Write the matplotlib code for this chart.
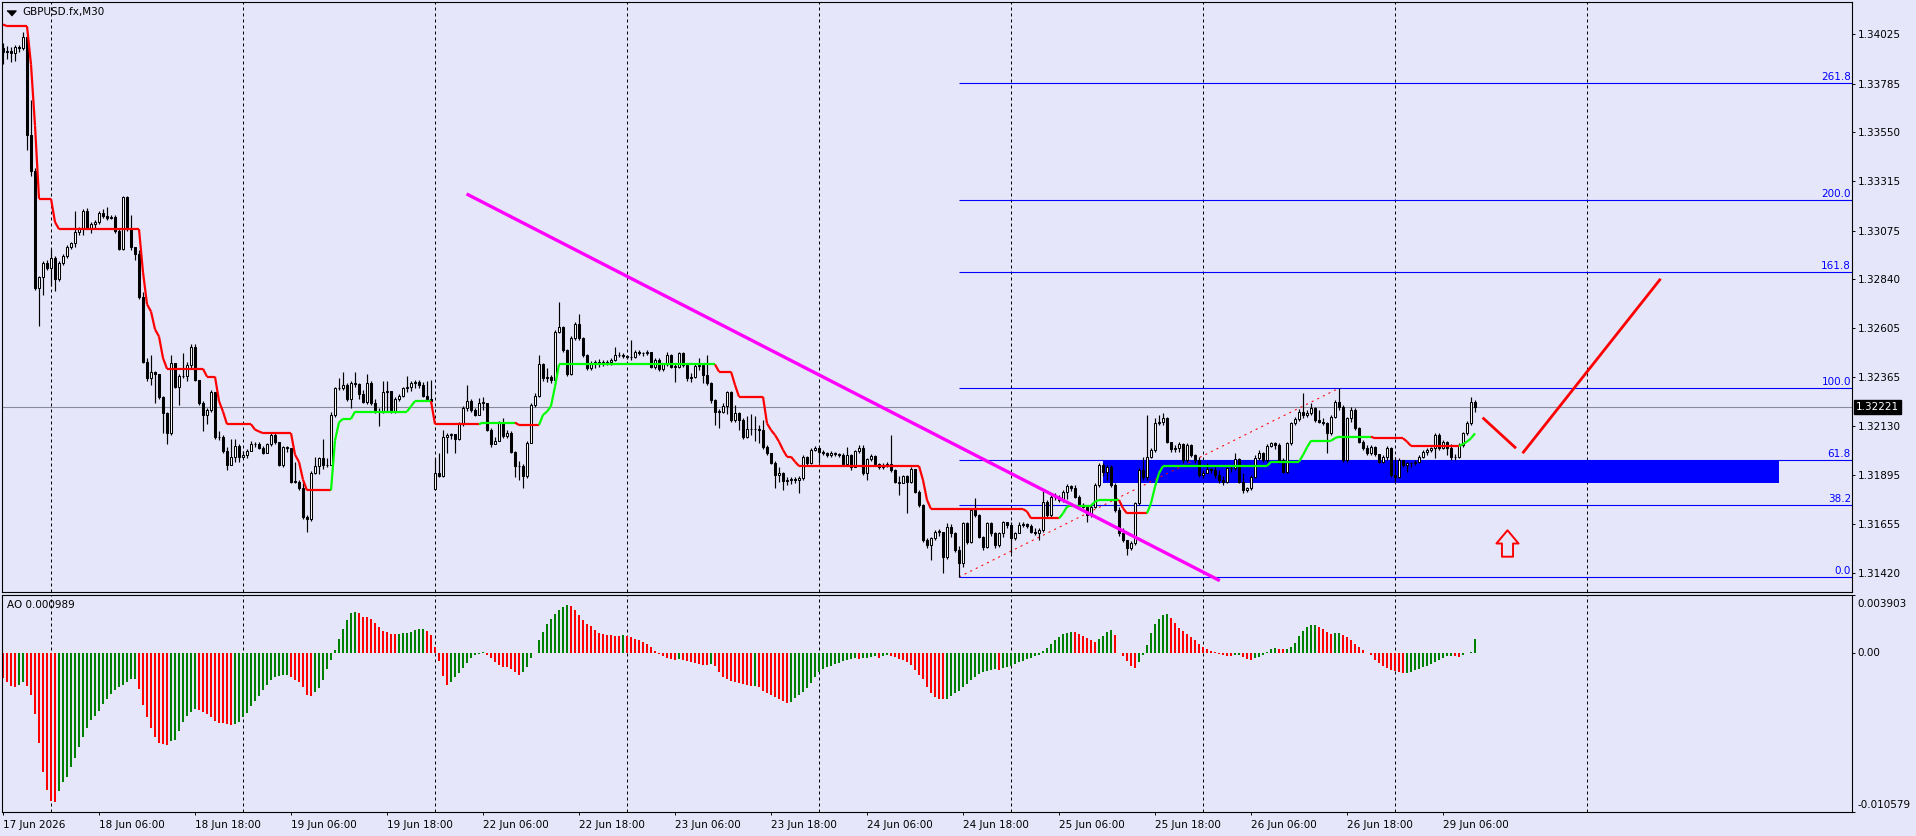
import numpy as np
import matplotlib
matplotlib.use("Agg")
import matplotlib.pyplot as plt
from matplotlib.collections import LineCollection
from matplotlib.patches import Rectangle
from matplotlib.path import Path
from matplotlib.lines import Line2D
import matplotlib.transforms as mtransforms

plt.rcParams['font.family'] = ['DejaVu Sans']

# ---------------- data ----------------
symbol = "GBPUSD.fx,M30"

closes = [
 1.33938, 1.33943, 1.33931, 1.33964, 1.33955, 1.34011, 1.33535, 1.33362, 1.32796, 1.32849, 1.32918, 1.32892,
 1.32944, 1.32840, 1.32918, 1.32953, 1.32996, 1.33013, 1.33068, 1.33082, 1.33168, 1.33085, 1.33108, 1.33116,
 1.33160, 1.33146, 1.33134, 1.33142, 1.33073, 1.32987, 1.33238, 1.33082, 1.32996, 1.32961, 1.32753, 1.32442,
 1.32364, 1.32390, 1.32381, 1.32269, 1.32191, 1.32096, 1.32433, 1.32321, 1.32373, 1.32373, 1.32424, 1.32511,
 1.32355, 1.32243, 1.32182, 1.32208, 1.32295, 1.32078, 1.32078, 1.32009, 1.31940, 1.31983, 1.32035, 1.31983,
 1.31988, 1.32009, 1.32044, 1.32044, 1.32023, 1.32001, 1.32044, 1.32087, 1.32052, 1.31940, 1.32027, 1.32023,
 1.31862, 1.31862, 1.31833, 1.31689, 1.31681, 1.31905, 1.31937, 1.31975, 1.31940, 1.31944, 1.32182, 1.32312,
 1.32312, 1.32329, 1.32260, 1.32338, 1.32334, 1.32286, 1.32248, 1.32338, 1.32243, 1.32200, 1.32200, 1.32295,
 1.32300, 1.32200, 1.32260, 1.32277, 1.32312, 1.32321, 1.32338, 1.32341, 1.32329, 1.32277, 1.32260, 1.32251,
 1.31905, 1.31888, 1.32078, 1.32087, 1.32092, 1.32070, 1.32139, 1.32217, 1.32251, 1.32208, 1.32186, 1.32243,
 1.32243, 1.32113, 1.32044, 1.32058, 1.32148, 1.32082, 1.32098, 1.32006, 1.31937, 1.31937, 1.31890, 1.32050,
 1.32232, 1.32275, 1.32428, 1.32361, 1.32366, 1.32353, 1.32586, 1.32607, 1.32498, 1.32382, 1.32554, 1.32622,
 1.32554, 1.32474, 1.32409, 1.32437, 1.32437, 1.32441, 1.32437, 1.32441, 1.32449, 1.32474, 1.32474, 1.32470,
 1.32462, 1.32462, 1.32490, 1.32485, 1.32482, 1.32490, 1.32417, 1.32449, 1.32404, 1.32430, 1.32474, 1.32417,
 1.32417, 1.32482, 1.32425, 1.32361, 1.32369, 1.32420, 1.32425, 1.32377, 1.32337, 1.32256, 1.32200, 1.32200,
 1.32227, 1.32296, 1.32159, 1.32192, 1.32159, 1.32076, 1.32114, 1.32114, 1.32114, 1.32111, 1.32031, 1.31998,
 1.31953, 1.31894, 1.31902, 1.31865, 1.31870, 1.31873, 1.31870, 1.31878, 1.31979, 1.31950, 1.32015, 1.32023,
 1.32005, 1.32002, 1.31990, 1.32002, 1.31995, 1.31990, 1.31945, 1.31990, 1.31934, 1.32010, 1.32026, 1.31902,
 1.31969, 1.31986, 1.31945, 1.31931, 1.31937, 1.31947, 1.31918, 1.31861, 1.31857, 1.31889, 1.31861, 1.31921,
 1.31813, 1.31749, 1.31580, 1.31555, 1.31588, 1.31620, 1.31620, 1.31499, 1.31644, 1.31612, 1.31531, 1.31467,
 1.31660, 1.31571, 1.31724, 1.31700, 1.31596, 1.31547, 1.31660, 1.31612, 1.31555, 1.31612, 1.31665, 1.31652,
 1.31588, 1.31612, 1.31652, 1.31655, 1.31649, 1.31620, 1.31612, 1.31628, 1.31765, 1.31700, 1.31789, 1.31785,
 1.31773, 1.31813, 1.31840, 1.31829, 1.31789, 1.31749, 1.31741, 1.31700, 1.31741, 1.31845, 1.31942, 1.31910,
 1.31934, 1.31845, 1.31724, 1.31612, 1.31580, 1.31539, 1.31567, 1.31757, 1.31918, 1.31886, 1.31982, 1.32014,
 1.32143, 1.32151, 1.32168, 1.32055, 1.32018, 1.32022, 1.32043, 1.31966, 1.32039, 1.31990, 1.31966, 1.31894,
 1.31902, 1.31921, 1.31918, 1.31894, 1.31870, 1.31861, 1.31926, 1.31926, 1.31971, 1.31861, 1.31821, 1.31829,
 1.31886, 1.31974, 1.31998, 1.31966, 1.32034, 1.32047, 1.32039, 1.31966, 1.31910, 1.32047, 1.32143, 1.32163,
 1.32200, 1.32184, 1.32195, 1.32216, 1.32159, 1.32151, 1.32143, 1.32095, 1.32176, 1.32248, 1.32224, 1.31966,
 1.32168, 1.32208, 1.32119, 1.32055, 1.32022, 1.31998, 1.32031, 1.31995, 1.31958, 1.31982, 1.32022, 1.31894,
 1.31886, 1.31966, 1.31942, 1.31950, 1.31950, 1.31958, 1.31982, 1.32006, 1.32014, 1.32022, 1.32087, 1.32022,
 1.32055, 1.32022, 1.31979, 1.31982, 1.32039, 1.32095, 1.32143, 1.32248, 1.32221]

highs = [
 1.33981, 1.33968, 1.33964, 1.33973, 1.33973, 1.34033, 1.34016, 1.33705, 1.33376, 1.32857, 1.32927, 1.32935,
 1.32987, 1.32953, 1.32927, 1.32961, 1.33004, 1.33021, 1.33168, 1.33090, 1.33177, 1.33186, 1.33116, 1.33125,
 1.33168, 1.33177, 1.33189, 1.33151, 1.33151, 1.33082, 1.33241, 1.33241, 1.33151, 1.32970, 1.32979, 1.32779,
 1.32459, 1.32476, 1.32398, 1.32381, 1.32277, 1.32200, 1.32476, 1.32433, 1.32381, 1.32485, 1.32442, 1.32528,
 1.32528, 1.32355, 1.32251, 1.32217, 1.32303, 1.32286, 1.32104, 1.32087, 1.32027, 1.32070, 1.32070, 1.32044,
 1.32009, 1.32018, 1.32058, 1.32052, 1.32052, 1.32035, 1.32047, 1.32099, 1.32099, 1.32047, 1.32035, 1.32035,
 1.32013, 1.31957, 1.31871, 1.31862, 1.31698, 1.31914, 1.31983, 1.31983, 1.32070, 1.31975, 1.32200, 1.32321,
 1.32364, 1.32390, 1.32338, 1.32347, 1.32390, 1.32338, 1.32303, 1.32381, 1.32347, 1.32260, 1.32217, 1.32347,
 1.32347, 1.32286, 1.32269, 1.32286, 1.32321, 1.32373, 1.32347, 1.32355, 1.32352, 1.32341, 1.32347, 1.32355,
 1.31975, 1.32001, 1.32113, 1.32096, 1.32099, 1.32092, 1.32148, 1.32226, 1.32329, 1.32260, 1.32217, 1.32265,
 1.32269, 1.32243, 1.32122, 1.32078, 1.32156, 1.32167, 1.32111, 1.32105, 1.32010, 1.31960, 1.31945, 1.32060,
 1.32240, 1.32290, 1.32474, 1.32435, 1.32410, 1.32375, 1.32595, 1.32728, 1.32615, 1.32505, 1.32565, 1.32635,
 1.32670, 1.32560, 1.32478, 1.32445, 1.32449, 1.32453, 1.32449, 1.32449, 1.32458, 1.32511, 1.32490, 1.32482,
 1.32474, 1.32546, 1.32498, 1.32498, 1.32490, 1.32498, 1.32490, 1.32458, 1.32458, 1.32437, 1.32490, 1.32478,
 1.32430, 1.32490, 1.32490, 1.32430, 1.32385, 1.32430, 1.32458, 1.32430, 1.32474, 1.32345, 1.32260, 1.32215,
 1.32240, 1.32301, 1.32301, 1.32232, 1.32200, 1.32170, 1.32180, 1.32190, 1.32180, 1.32135, 1.32159, 1.32040,
 1.32002, 1.31960, 1.31930, 1.31910, 1.31885, 1.31885, 1.31885, 1.31890, 1.31990, 1.31985, 1.32025, 1.32035,
 1.32030, 1.32015, 1.32005, 1.32010, 1.32005, 1.32002, 1.32000, 1.32030, 1.31995, 1.32015, 1.32040, 1.32040,
 1.31975, 1.31995, 1.31990, 1.31950, 1.31950, 1.31955, 1.32087, 1.31925, 1.31890, 1.31895, 1.31895, 1.31930,
 1.31925, 1.31820, 1.31755, 1.31590, 1.31595, 1.31630, 1.31635, 1.31620, 1.31660, 1.31655, 1.31620, 1.31550,
 1.31668, 1.31665, 1.31733, 1.31781, 1.31705, 1.31600, 1.31668, 1.31668, 1.31620, 1.31620, 1.31673, 1.31668,
 1.31665, 1.31620, 1.31668, 1.31668, 1.31660, 1.31655, 1.31636, 1.31636, 1.31821, 1.31773, 1.31797, 1.31805,
 1.31797, 1.31821, 1.31848, 1.31845, 1.31845, 1.31797, 1.31757, 1.31749, 1.31749, 1.31853, 1.31950, 1.31950,
 1.31942, 1.31942, 1.31853, 1.31741, 1.31636, 1.31580, 1.31575, 1.31765, 1.31926, 1.31982, 1.32184, 1.32022,
 1.32168, 1.32184, 1.32192, 1.32176, 1.32055, 1.32039, 1.32055, 1.32047, 1.32047, 1.32043, 1.31995, 1.31982,
 1.31918, 1.31950, 1.31926, 1.31934, 1.31918, 1.31890, 1.31934, 1.31942, 1.31998, 1.31974, 1.31902, 1.31837,
 1.31894, 1.31990, 1.32014, 1.32006, 1.32043, 1.32055, 1.32055, 1.32047, 1.31974, 1.32055, 1.32151, 1.32176,
 1.32212, 1.32288, 1.32208, 1.32240, 1.32224, 1.32208, 1.32168, 1.32151, 1.32184, 1.32256, 1.32312, 1.32232,
 1.32176, 1.32224, 1.32216, 1.32127, 1.32063, 1.32039, 1.32039, 1.32035, 1.31995, 1.31990, 1.32035, 1.32027,
 1.31982, 1.31974, 1.31966, 1.31958, 1.31958, 1.31966, 1.31990, 1.32014, 1.32022, 1.32031, 1.32095, 1.32095,
 1.32063, 1.32059, 1.32043, 1.31995, 1.32047, 1.32103, 1.32155, 1.32272, 1.32256]

lows = [
 1.33878, 1.33904, 1.33891, 1.33895, 1.33938, 1.33947, 1.33462, 1.33341, 1.32788, 1.32615, 1.32762, 1.32883,
 1.32805, 1.32784, 1.32831, 1.32909, 1.32944, 1.32987, 1.32996, 1.33056, 1.33056, 1.33082, 1.33065, 1.33082,
 1.33108, 1.33134, 1.33125, 1.33130, 1.33065, 1.32979, 1.32982, 1.33073, 1.32979, 1.32935, 1.32744, 1.32433,
 1.32347, 1.32329, 1.32243, 1.32260, 1.32096, 1.32044, 1.32087, 1.32312, 1.32234, 1.32364, 1.32347, 1.32407,
 1.32347, 1.32234, 1.32104, 1.32139, 1.32200, 1.32070, 1.32061, 1.32001, 1.31920, 1.31940, 1.31957, 1.31957,
 1.31975, 1.31978, 1.32013, 1.32030, 1.32018, 1.31995, 1.31999, 1.32035, 1.32044, 1.31937, 1.31931, 1.32006,
 1.31854, 1.31854, 1.31823, 1.31681, 1.31620, 1.31672, 1.31897, 1.31897, 1.31924, 1.31931, 1.31940, 1.32174,
 1.32303, 1.32303, 1.32251, 1.32217, 1.32321, 1.32260, 1.32243, 1.32238, 1.32234, 1.32191, 1.32130, 1.32191,
 1.32200, 1.32191, 1.32191, 1.32251, 1.32269, 1.32295, 1.32300, 1.32312, 1.32312, 1.32269, 1.32251, 1.32243,
 1.31819, 1.31885, 1.31885, 1.32001, 1.32070, 1.32001, 1.32065, 1.32130, 1.32203, 1.32200, 1.32179, 1.32182,
 1.32208, 1.32104, 1.32027, 1.32044, 1.32065, 1.32071, 1.32071, 1.31998, 1.31886, 1.31870, 1.31829, 1.31880,
 1.32050, 1.32220, 1.32270, 1.32350, 1.32345, 1.32340, 1.32350, 1.32580, 1.32490, 1.32370, 1.32375, 1.32545,
 1.32545, 1.32465, 1.32400, 1.32400, 1.32409, 1.32417, 1.32420, 1.32425, 1.32425, 1.32445, 1.32462, 1.32458,
 1.32453, 1.32449, 1.32458, 1.32474, 1.32469, 1.32474, 1.32409, 1.32404, 1.32395, 1.32395, 1.32420, 1.32409,
 1.32345, 1.32409, 1.32417, 1.32350, 1.32345, 1.32361, 1.32401, 1.32340, 1.32330, 1.32240, 1.32135, 1.32120,
 1.32195, 1.32190, 1.32150, 1.32150, 1.32111, 1.32070, 1.32071, 1.32087, 1.32060, 1.32050, 1.32020, 1.31990,
 1.31945, 1.31829, 1.31860, 1.31821, 1.31845, 1.31850, 1.31853, 1.31805, 1.31870, 1.31940, 1.31945, 1.32010,
 1.31950, 1.31990, 1.31982, 1.31982, 1.31985, 1.31980, 1.31940, 1.31940, 1.31920, 1.31930, 1.32000, 1.31895,
 1.31870, 1.31960, 1.31935, 1.31925, 1.31925, 1.31930, 1.31910, 1.31855, 1.31797, 1.31855, 1.31708, 1.31855,
 1.31805, 1.31740, 1.31570, 1.31540, 1.31483, 1.31580, 1.31600, 1.31418, 1.31490, 1.31595, 1.31520, 1.31401,
 1.31451, 1.31560, 1.31567, 1.31690, 1.31588, 1.31531, 1.31540, 1.31600, 1.31539, 1.31547, 1.31596, 1.31636,
 1.31515, 1.31580, 1.31612, 1.31640, 1.31636, 1.31612, 1.31604, 1.31580, 1.31620, 1.31690, 1.31690, 1.31773,
 1.31765, 1.31765, 1.31780, 1.31815, 1.31781, 1.31741, 1.31733, 1.31668, 1.31692, 1.31733, 1.31837, 1.31890,
 1.31870, 1.31837, 1.31716, 1.31600, 1.31571, 1.31507, 1.31530, 1.31555, 1.31749, 1.31870, 1.31870, 1.31974,
 1.32006, 1.32135, 1.32135, 1.32047, 1.32006, 1.32006, 1.32006, 1.31950, 1.31958, 1.31982, 1.31950, 1.31886,
 1.31880, 1.31910, 1.31905, 1.31880, 1.31853, 1.31845, 1.31853, 1.31910, 1.31918, 1.31853, 1.31805, 1.31813,
 1.31821, 1.31880, 1.31966, 1.31958, 1.31958, 1.32031, 1.32018, 1.31950, 1.31902, 1.31902, 1.32039, 1.32135,
 1.32155, 1.32168, 1.32176, 1.32184, 1.32151, 1.32143, 1.32135, 1.31998, 1.32087, 1.32168, 1.32208, 1.31958,
 1.31958, 1.32151, 1.32111, 1.32047, 1.32014, 1.31990, 1.31990, 1.31987, 1.31950, 1.31950, 1.31966, 1.31886,
 1.31862, 1.31878, 1.31934, 1.31910, 1.31934, 1.31942, 1.31950, 1.31974, 1.31990, 1.32006, 1.31974, 1.32014,
 1.32018, 1.31990, 1.31966, 1.31966, 1.31974, 1.32031, 1.32087, 1.32135, 1.32200]

first_open = 1.33955          # open of the first visible bar
week_open_bar = 108           # first bar of the new week (gap)
week_open = 1.31828

ao = [
 -0.00162, -0.00190, -0.00219, -0.00224, -0.00213, -0.00190, -0.00219, -0.00279, -0.00401, -0.00600, -0.00788, -0.00910,
 -0.00987, -0.00994, -0.00921, -0.00861, -0.00821, -0.00755, -0.00700, -0.00622, -0.00560, -0.00500, -0.00445, -0.00418,
 -0.00385, -0.00334, -0.00301, -0.00268, -0.00241, -0.00224, -0.00213, -0.00190, -0.00173, -0.00171, -0.00235, -0.00345,
 -0.00423, -0.00500, -0.00560, -0.00596, -0.00607, -0.00608, -0.00582, -0.00578, -0.00516, -0.00456, -0.00418, -0.00390,
 -0.00368, -0.00374, -0.00390, -0.00401, -0.00423, -0.00449, -0.00463, -0.00465, -0.00472, -0.00478, -0.00472, -0.00456,
 -0.00427, -0.00396, -0.00352, -0.00317, -0.00286, -0.00246, -0.00213, -0.00179, -0.00157, -0.00151, -0.00146, -0.00142,
 -0.00157, -0.00179, -0.00190, -0.00224, -0.00279, -0.00281, -0.00257, -0.00228, -0.00179, -0.00106, -0.00046, 0.00024,
 0.00097, 0.00164, 0.00226, 0.00268, 0.00279, 0.00268, 0.00246, 0.00244, 0.00230, 0.00204, 0.00175, 0.00153,
 0.00142, 0.00132, 0.00131, 0.00133, 0.00137, 0.00140, 0.00146, 0.00155, 0.00162, 0.00166, 0.00150, 0.00122,
 0.00040, -0.00049, -0.00150, -0.00208, -0.00188, -0.00159, -0.00133, -0.00100, -0.00066, -0.00033, -0.00013, -0.00004,
 0.00009, -0.00011, -0.00033, -0.00055, -0.00077, -0.00089, -0.00093, -0.00106, -0.00122, -0.00144, -0.00122, -0.00089,
 -0.00033, 0.00004, 0.00089, 0.00144, 0.00199, 0.00232, 0.00266, 0.00292, 0.00310, 0.00321, 0.00314, 0.00292,
 0.00255, 0.00226, 0.00199, 0.00182, 0.00159, 0.00139, 0.00131, 0.00126, 0.00122, 0.00120, 0.00117, 0.00122,
 0.00117, 0.00111, 0.00097, 0.00093, 0.00077, 0.00062, 0.00040, 0.00018, -0.00004, -0.00015, -0.00027, -0.00035,
 -0.00042, -0.00035, -0.00044, -0.00049, -0.00055, -0.00066, -0.00071, -0.00075, -0.00077, -0.00071, -0.00084, -0.00122,
 -0.00155, -0.00173, -0.00182, -0.00190, -0.00197, -0.00206, -0.00213, -0.00219, -0.00215, -0.00226, -0.00248, -0.00261,
 -0.00275, -0.00288, -0.00303, -0.00317, -0.00328, -0.00321, -0.00299, -0.00277, -0.00255, -0.00228, -0.00195, -0.00159,
 -0.00122, -0.00106, -0.00093, -0.00084, -0.00071, -0.00062, -0.00053, -0.00046, -0.00040, -0.00033, -0.00035, -0.00033,
 -0.00027, -0.00022, -0.00018, -0.00027, -0.00018, -0.00011, -0.00018, -0.00024, -0.00035, -0.00044, -0.00058, -0.00080,
 -0.00111, -0.00146, -0.00168, -0.00221, -0.00266, -0.00292, -0.00303, -0.00306, -0.00301, -0.00283, -0.00266, -0.00248,
 -0.00226, -0.00201, -0.00179, -0.00157, -0.00135, -0.00122, -0.00115, -0.00111, -0.00106, -0.00111, -0.00100, -0.00089,
 -0.00082, -0.00071, -0.00060, -0.00049, -0.00040, -0.00031, -0.00020, -0.00007, 0.00018, 0.00038, 0.00062, 0.00089,
 0.00113, 0.00128, 0.00137, 0.00146, 0.00144, 0.00133, 0.00120, 0.00100, 0.00089, 0.00077, 0.00097, 0.00120,
 0.00144, 0.00155, 0.00122, 0.00004, -0.00018, -0.00049, -0.00084, -0.00100, -0.00055, -0.00011, 0.00055, 0.00137,
 0.00195, 0.00232, 0.00259, 0.00261, 0.00239, 0.00204, 0.00173, 0.00151, 0.00128, 0.00111, 0.00089, 0.00062,
 0.00044, 0.00029, 0.00018, 0.00007, -0.00002, -0.00009, -0.00015, -0.00020, -0.00011, -0.00010, -0.00024, -0.00035,
 -0.00046, -0.00033, -0.00022, -0.00009, 0.00009, 0.00029, 0.00035, 0.00031, 0.00029, 0.00030, 0.00044, 0.00071,
 0.00115, 0.00151, 0.00177, 0.00188, 0.00190, 0.00177, 0.00164, 0.00146, 0.00133, 0.00135, 0.00139, 0.00122,
 0.00108, 0.00093, 0.00066, 0.00044, 0.00022, 0.00004, -0.00011, -0.00044, -0.00066, -0.00084, -0.00100, -0.00111,
 -0.00120, -0.00126, -0.00133, -0.00128, -0.00122, -0.00111, -0.00104, -0.00093, -0.00084, -0.00071, -0.00055, -0.00044,
 -0.00031, -0.00020, -0.00015, -0.00020, -0.00024, -0.00013, 0.00004, 0.00013, 0.000989]
ao_window_max = 0.003903
ao_window_min = -0.010579

# trailing line vertices (bar, value) and trend of the segment that starts there (1 = up/green, 0 = down/red)
trail_bar = [0, 1, 6, 7, 8, 9, 12, 13, 14, 34, 35, 36, 37, 38, 39, 40, 41, 50, 51, 53, 54, 55, 56, 62, 63, 64, 65,
             72, 73, 74, 75, 76, 82, 83, 84, 85, 87, 88, 101, 102, 103, 107, 108, 119, 120, 128, 129, 134, 135, 136,
             137, 138, 139, 178, 179, 182, 183, 184, 190, 191, 192, 193, 194, 195, 196, 197, 198, 199, 229, 230, 231,
             232, 255, 256, 257, 264, 265, 266, 267, 272, 273, 274, 279, 280, 281, 286, 287, 288, 289, 290, 316, 317,
             324, 325, 326, 327, 332, 333, 334, 342, 343, 350, 351, 352, 364, 365, 366, 367, 368]
trail_val = [1.34071, 1.34063, 1.34063, 1.33878, 1.33583, 1.33229, 1.33229, 1.33116, 1.33082, 1.33082, 1.32874,
             1.32719, 1.32684, 1.32598, 1.32563, 1.32459, 1.32407, 1.32407, 1.32369, 1.32369, 1.32251, 1.32200,
             1.32139, 1.32139, 1.32113, 1.32104, 1.32096, 1.32096, 1.31992, 1.31957, 1.31871, 1.31819, 1.31819,
             1.32061, 1.32148, 1.32165, 1.32165, 1.32200, 1.32200, 1.32226, 1.32251, 1.32251, 1.32139, 1.32139,
             1.32147, 1.32147, 1.32135, 1.32135, 1.32184, 1.32200, 1.32227, 1.32321, 1.32428, 1.32428, 1.32393,
             1.32393, 1.32329, 1.32272, 1.32272, 1.32143, 1.32111, 1.32087, 1.32055, 1.32015, 1.31982, 1.31982,
             1.31958, 1.31937, 1.31937, 1.31869, 1.31773, 1.31729, 1.31729, 1.31717, 1.31684, 1.31684, 1.31708,
             1.31741, 1.31745, 1.31745, 1.31765, 1.31773, 1.31773, 1.31733, 1.31708, 1.31708, 1.31757, 1.31837,
             1.31902, 1.31937, 1.31937, 1.31958, 1.31958, 1.31990, 1.32027, 1.32059, 1.32059, 1.32072, 1.32079,
             1.32079, 1.32071, 1.32071, 1.32055, 1.32034, 1.32034, 1.32043, 1.32055, 1.32071, 1.32095]
trail_up = [0, 0, 0, 0, 0, 0, 0, 0, 0, 0, 0, 0, 0, 0, 0, 0, 0, 0, 0, 0, 0, 0, 0, 0, 0, 0, 0,
            0, 0, 0, 0, 0, 1, 1, 1, 1, 1, 1, 1, 1, 1, 0, 0, 1, 1, 0, 0, 1, 1, 1,
            1, 1, 1, 0, 0, 0, 0, 0, 0, 0, 0, 0, 0, 0, 0, 0, 0, 0, 0, 0, 0,
            0, 0, 0, 0, 1, 1, 1, 1, 1, 1, 1, 0, 0, 0, 1, 1, 1, 1, 1, 1, 1,
            1, 1, 1, 1, 1, 1, 1, 0, 0, 0, 0, 0, 1, 1, 1, 1, 1]

time_tick_bars = [0, 24, 48, 72, 96, 120, 144, 168, 192, 216, 240, 264, 288, 312, 336, 360]
time_labels = ["17 Jun 2026", "18 Jun 06:00", "18 Jun 18:00", "19 Jun 06:00", "19 Jun 18:00",
               "22 Jun 06:00", "22 Jun 18:00", "23 Jun 06:00", "23 Jun 18:00", "24 Jun 06:00",
               "24 Jun 18:00", "25 Jun 06:00", "25 Jun 18:00", "26 Jun 06:00", "26 Jun 18:00",
               "29 Jun 06:00"]
day_start_bars = [12, 60, 108, 156, 204, 252, 300, 348, 396]
price_ticks = [1.34025, 1.33785, 1.33550, 1.33315, 1.33075, 1.32840, 1.32605,
               1.32365, 1.32130, 1.31895, 1.31655, 1.31420]

fib_levels = [0.0, 38.2, 61.8, 100.0, 161.8, 200.0, 261.8]
fib_low, fib_high = 1.31401, 1.32313
fib_low_bar, fib_high_bar = 239, 334

zone_bars = [275, 444]
zone_prices = [1.31856, 1.31965]

trend_bars = [115.9, 304.2]
trend_prices = [1.33252, 1.31383]

path1_bars = [369.9, 378.25]
path1_prices = [1.32171, 1.32023]
path2_bars = [379.9, 414.4]
path2_prices = [1.31999, 1.32842]

arrow_bar = 376
arrow_price = 1.31565

# ---------------- styling ----------------
W, H = 1916, 836
BG = "#e6e6fa"
FIB = "#0000ff"
FS = 7.5

n = len(closes)
assert len(highs) == n and len(lows) == n and len(ao) == n, (len(closes), len(highs), len(lows), len(ao))
assert len(trail_bar) == len(trail_val) == len(trail_up)

fig = plt.figure(figsize=(W / 100, H / 100), dpi=100, facecolor=BG)
ax = fig.add_axes([2 / W, 1 - 592 / H, 1850 / W, 590 / H], facecolor=BG)
ax2 = fig.add_axes([2 / W, 1 - 812 / H, 1850 / W, 217 / H], facecolor=BG, sharex=ax)

x = np.arange(n)
c = np.array(closes)
o = np.concatenate([[first_open], c[:-1]])
o[week_open_bar] = week_open
h = np.array(highs)
l = np.array(lows)

ax.set_xlim(-0.25, 462.25)
ax.set_ylim(1.313282, 1.341797)
xmax = ax.get_xlim()[1]

# grid (day separators)
for a in (ax, ax2):
    for b in day_start_bars:
        a.axvline(b, color="black", lw=0.72, ls=(0, (3, 3)), zorder=0.5)

# zone rectangle
ax.add_patch(Rectangle((zone_bars[0], zone_prices[0]), zone_bars[1] - zone_bars[0],
                       zone_prices[1] - zone_prices[0], facecolor="#0000ff", edgecolor="none", zorder=1))

# current price line
ax.axhline(c[-1], color="#868c99", lw=0.8, zorder=1.5)

# fibonacci
fib_prices = [fib_low + (fib_high - fib_low) * lv / 100.0 for lv in fib_levels]
ax.hlines(fib_prices, fib_low_bar, xmax, color=FIB, lw=0.8, zorder=2)
blend = mtransforms.blended_transform_factory(ax.transAxes, ax.transData)
for lv, p in zip(fib_levels, fib_prices):
    ax.text(1.0, p, f"{lv:.1f}", transform=blend + mtransforms.ScaledTranslation(-1 / 100, 1 / 100, fig.dpi_scale_trans),
            ha="right", va="bottom", color=FIB, fontsize=FS, zorder=6)
ax.plot([fib_low_bar, fib_high_bar], [fib_low, fib_high], color="red", lw=0.75, ls=(0, (2, 4)), zorder=2.5)

# candles
ax.vlines(x, l, h, color="black", lw=0.85, zorder=3)
bottom = np.minimum(o, c)
height = np.maximum(np.abs(c - o), 0.000012)
face = np.where(c >= o, "white", "black")
ax.bar(x, height, bottom=bottom, width=0.58, color=face, edgecolor="black", linewidth=0.75, zorder=4)

# trailing line
segs = [[(trail_bar[k], trail_val[k]), (trail_bar[k + 1], trail_val[k + 1])] for k in range(len(trail_bar) - 1)]
cols = ["#00ff00" if trail_up[k] else "#ff0000" for k in range(len(trail_bar) - 1)]
ax.add_collection(LineCollection(segs, colors=cols, linewidths=1.6, zorder=5, capstyle="butt"))

# magenta trendline
ax.plot(trend_bars, trend_prices, color="#ff00ff", lw=2.4, zorder=6, solid_capstyle="butt")

# forecast path
ax.plot(path1_bars, path1_prices, color="#ff0000", lw=2.0, zorder=6, solid_capstyle="butt")
ax.plot(path2_bars, path2_prices, color="#ff0000", lw=2.0, zorder=6, solid_capstyle="butt")

# hollow up arrow marker
arrow_path = Path([(0, 0.5), (0.42, 0.0), (0.21, 0.0), (0.21, -0.5), (-0.21, -0.5), (-0.21, 0.0),
                   (-0.42, 0.0), (0, 0.5)], closed=True)
ax.plot([arrow_bar], [arrow_price], marker=arrow_path, ms=19, mfc="none", mec="#ff0000", mew=1.4, zorder=6)

# price axis
ax.yaxis.tick_right()
ax.set_yticks(price_ticks)
ax.set_yticklabels([f"{v:.5f}" for v in price_ticks])
ax.tick_params(axis="y", direction="out", length=2.5, width=0.7, pad=2, labelsize=FS, colors="black")
ax.tick_params(axis="x", bottom=False, labelbottom=False)

ax.annotate(f"{c[-1]:.5f}", xy=(1, c[-1]), xycoords=("axes fraction", "data"), xytext=(4, 0),
            textcoords="offset pixels", ha="left", va="center", color="white", fontsize=FS,
            bbox=dict(boxstyle="square,pad=0.2", fc="black", ec="black"), annotation_clip=False, zorder=10)

# AO panel
ao_arr = np.array(ao)
ao_col = ["#ff0000"] + ["#008000" if ao_arr[i] > ao_arr[i - 1] else "#ff0000" for i in range(1, n)]
ax2.bar(x, ao_arr, width=0.7, color=ao_col, zorder=2, linewidth=0, antialiased=False)
ax2.set_ylim(ao_window_min, ao_window_max)
ax2.yaxis.tick_right()
ax2.set_yticks([ao_window_max, 0.0, ao_window_min])
ax2.set_yticklabels(["", "", ""])
ax2.tick_params(axis="y", direction="out", length=2.5, width=0.7, pad=2, labelsize=FS)
blend2 = mtransforms.blended_transform_factory(ax2.transAxes, ax2.transData)
for val, txt, dy in [(ao_window_max, f"{ao_window_max:.6f}", -9), (0.0, "0.00", 0),
                     (ao_window_min, f"{ao_window_min:.6f}", 7)]:
    ax2.text(1.0, val, txt, transform=blend2 + mtransforms.ScaledTranslation(5 / 100, dy / 100, fig.dpi_scale_trans),
             ha="left", va="center", fontsize=FS, clip_on=False)

ax2.set_xticks(time_tick_bars)
ax2.set_xticklabels(time_labels, ha="left")
ax2.tick_params(axis="x", direction="out", length=2.5, width=0.7, pad=3, labelsize=FS)

for a in (ax, ax2):
    for s in a.spines.values():
        s.set_color("black")
        s.set_linewidth(0.8)

# titles
fig.text(22 / W, 1 - 12.5 / H, symbol, fontsize=FS, ha="left", va="center")
fig.add_artist(Line2D([10.5 / W], [1 - 12.5 / H], marker=[(-4.5, 2.5), (4.5, 2.5), (0, -2.5)], ms=6.5,
                      color="black", transform=fig.transFigure))
fig.text(7 / W, 1 - 605 / H, f"AO {ao_arr[-1]:.6f}", fontsize=FS, ha="left", va="center")

fig.savefig("out.png", dpi=100, facecolor=BG)
